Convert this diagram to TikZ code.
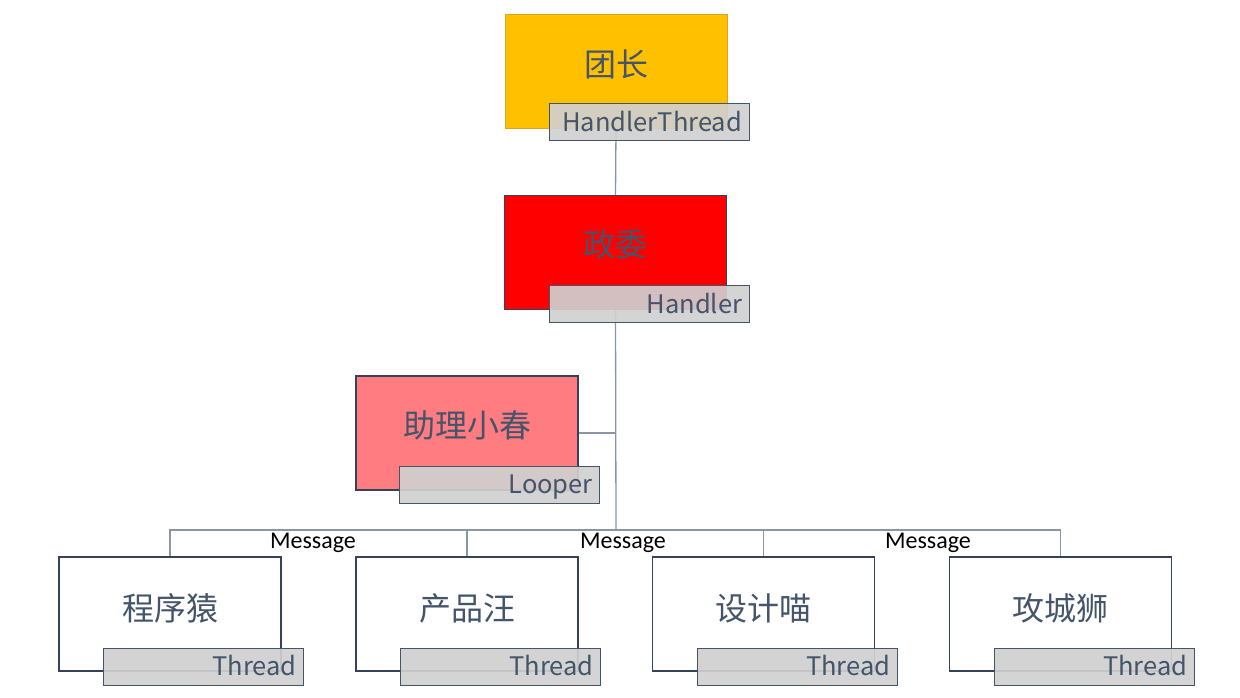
\documentclass[tikz,border=0pt]{standalone}
\usepackage{fontspec}
\setmainfont{Carlito}
\newfontfamily\cjk{Noto Sans CJK SC}
\usetikzlibrary{backgrounds}
\definecolor{Slate}{HTML}{44546A}
\definecolor{DarkSlate}{HTML}{34435A}
\definecolor{Gold}{HTML}{FFC000}
\definecolor{GoldEdge}{HTML}{D4A52A}
\definecolor{Pink}{HTML}{FF7C80}
\definecolor{LineGray}{HTML}{8A96A6}
\definecolor{TagGray}{HTML}{D0D0D0}
\tikzset{
  role/.style={draw=DarkSlate, line width=1.5pt, fill=white,
    minimum width=222pt, minimum height=114pt, inner sep=0pt},
  roletext/.style={font=\cjk\fontsize{32}{36}\selectfont, text=Slate, inner sep=0pt},
  tag/.style={draw=Slate, line width=1pt, fill=TagGray, fill opacity=0.92,
    text opacity=1, minimum height=37pt, inner xsep=7pt, inner ysep=0pt,
    text width=186pt, align=right, anchor=south west,
    text height=22pt, text depth=4pt,
    font=\cjk\fontsize{25.5}{28}\selectfont, text=Slate},
  msg/.style={font=\fontsize{24}{26}\selectfont, text=black, inner sep=0pt},
  link/.style={draw=LineGray, line width=1.3pt}
}
\begin{document}
\begin{tikzpicture}[x=1pt, y=-1pt]
  \useasboundingbox (0,0) rectangle (1240,698);
  % boxes
  \node[role, fill=Gold, draw=GoldEdge, line width=1pt] (tz) at (616,72) {};
  \node[role, fill=red] (zw) at (615.5,252.5) {};
  \node[role, fill=Pink] (zl) at (467,433) {};
  \node[role] (p1) at (170,614) {};
  \node[role] (p2) at (467,614) {};
  \node[role] (p3) at (763.5,614) {};
  \node[role] (p4) at (1060.5,614) {};
  % names
  \node[roletext] at ([yshift=8pt]tz.center) {团长};
  \node[roletext] at ([yshift=8pt]zw.center) {政委};
  \node[roletext] at ([yshift=8pt]zl.center) {助理小春};
  \node[roletext] at ([yshift=6pt]p1.center) {程序猿};
  \node[roletext] at ([yshift=6pt]p2.center) {产品汪};
  \node[roletext] at ([yshift=6pt]p3.center) {设计喵};
  \node[roletext] at ([yshift=6pt]p4.center) {攻城狮};
  % tags
  \node[tag] (ht) at ([xshift=44pt,yshift=-12pt]tz.south west) {HandlerThread};
  \node[tag] (hd) at ([xshift=45pt,yshift=-13pt]zw.south west) {Handler};
  \node[tag] (lp) at ([xshift=44pt,yshift=-13pt]zl.south west) {Looper};
  \node[tag] (t1) at ([xshift=45pt,yshift=-14pt]p1.south west) {Thread};
  \node[tag] (t2) at ([xshift=45pt,yshift=-14pt]p2.south west) {Thread};
  \node[tag] (t3) at ([xshift=45pt,yshift=-14pt]p3.south west) {Thread};
  \node[tag] (t4) at ([xshift=45pt,yshift=-14pt]p4.south west) {Thread};
  % messages
  \node[msg] (m1) at (313,543) {Message};
  \node[msg] (m2) at (623,543) {Message};
  \node[msg] (m3) at (928,543) {Message};
  % links
  \begin{scope}[on background layer]
    \coordinate (bus) at (616,530);
    \draw[link] (tz.south) -- (zw.north);
    \draw[link] (zw.south) -- (bus);
    \draw[link] (zl.east) -- (zw.south |- zl.east);
    \draw[link] (p1.north) |- (bus) -| (p4.north);
    \draw[link] (p2.north) -- (p2.north |- bus);
    \draw[link] (p3.north) -- (p3.north |- bus);
  \end{scope}
\end{tikzpicture}
\end{document}
